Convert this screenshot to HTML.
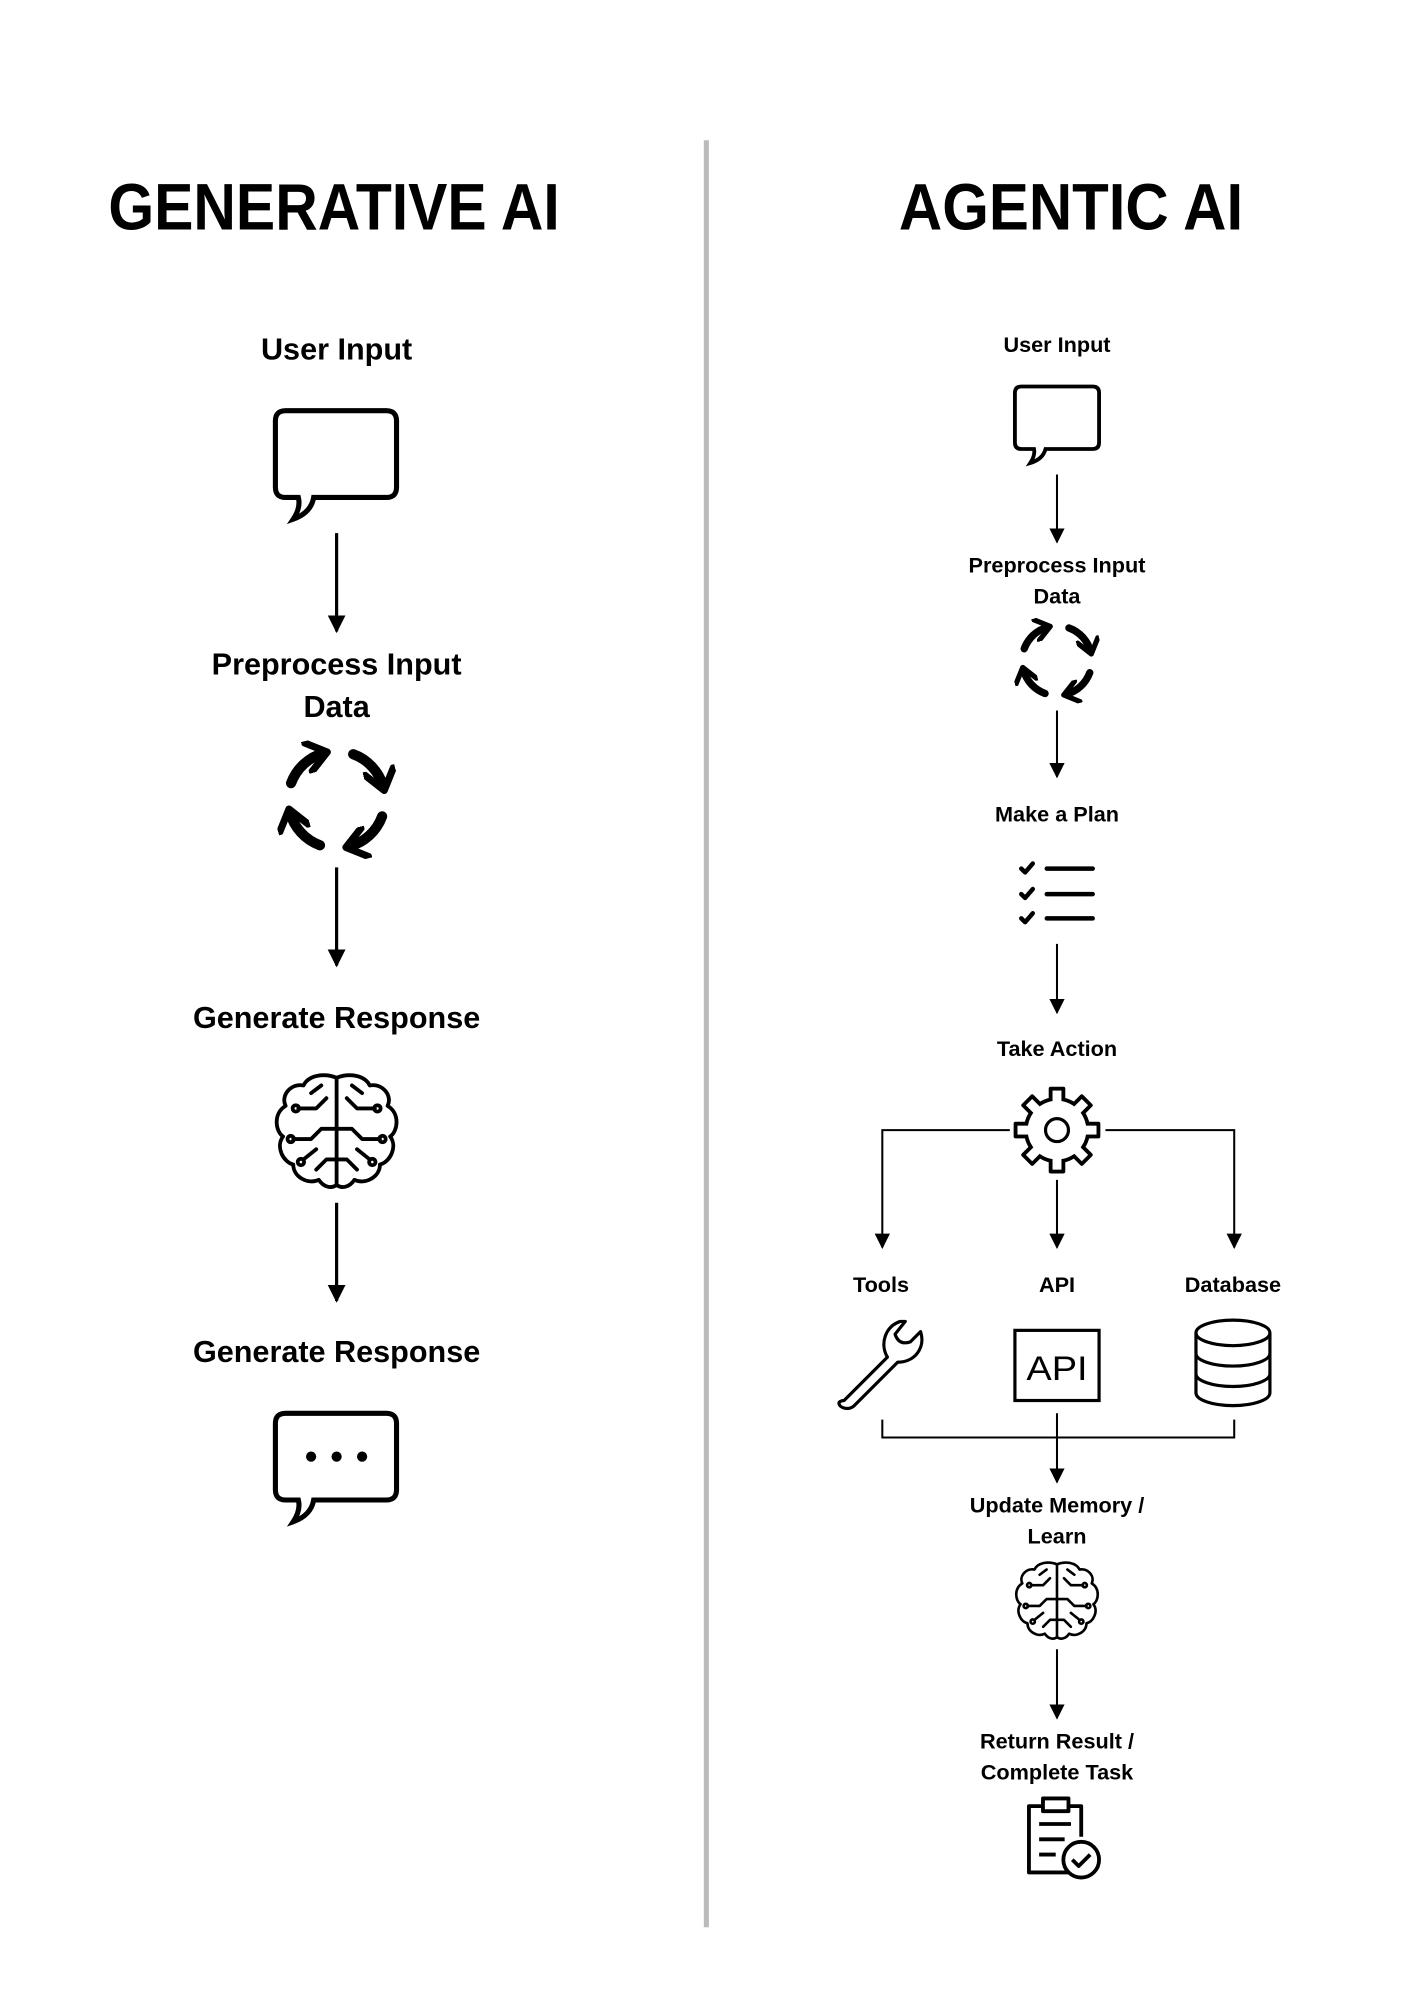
<!DOCTYPE html>
<html><head><meta charset="utf-8"><style>
html,body{margin:0;padding:0;background:#fff}
svg{display:block}
text{font-family:"Liberation Sans",Arial,sans-serif;font-weight:bold;fill:#000;text-anchor:middle}
</style></head><body>
<svg width="1414" height="2000" viewBox="0 0 1109 1568" preserveAspectRatio="none" xmlns="http://www.w3.org/2000/svg">
<defs>
<marker id="ahL" viewBox="0 0 10 10" refX="9" refY="5" markerWidth="14" markerHeight="14" orient="auto" markerUnits="userSpaceOnUse">
<path d="M0,0 L10,5 L0,10 z" fill="#000"/></marker>
<marker id="ahS" viewBox="0 0 10 10" refX="9" refY="5" markerWidth="12" markerHeight="12" orient="auto" markerUnits="userSpaceOnUse">
<path d="M0,0 L10,5 L0,10 z" fill="#000"/></marker>
<marker id="cyc" viewBox="0 0 10 10" refX="6" refY="5" markerWidth="3.2" markerHeight="3.2" orient="auto">
<path d="M1,0.5 L7,5 L1,9.5" fill="none" stroke="#000" stroke-width="2.2" stroke-linecap="round" stroke-linejoin="round"/></marker>
<g id="brain" fill="none" stroke="#000" stroke-width="3" stroke-linecap="round" stroke-linejoin="round">
<path d="M0,-42 C-10,-46 -22,-44 -26,-36 C-36,-38 -44,-28 -40,-20 C-50,-14 -48,0 -42,4 C-48,12 -42,24 -34,26 C-34,36 -22,42 -14,38 C-10,44 -4,45 0,42"/>
<path d="M0,-42 C10,-46 22,-44 26,-36 C36,-38 44,-28 40,-20 C50,-14 48,0 42,4 C48,12 42,24 34,26 C34,36 22,42 14,38 C10,44 4,45 0,42"/>
<path d="M0,-42 V42"/>
<path d="M-30,-18 H-16 L-8,-26 M-34,6 H-20 L-12,-2 H0 M-26,22 L-16,14 M-16,30 L-8,22 H0 M-20,-30 L-12,-36"/>
<path d="M30,-18 H16 L8,-26 M34,6 H20 L12,-2 H0 M26,22 L16,14 M16,30 L8,22 H0 M20,-30 L12,-36"/>
<circle cx="-32" cy="-18" r="2.5"/><circle cx="-36" cy="6" r="2.5"/><circle cx="-28" cy="24" r="2.5"/>
<circle cx="32" cy="-18" r="2.5"/><circle cx="36" cy="6" r="2.5"/><circle cx="28" cy="24" r="2.5"/>
</g>
<g id="cycle" fill="none" stroke="#000" stroke-width="8" stroke-linecap="round">
<path d="M-35.7,-13 A38,38 0 0 1 -9.8,-36.7" marker-end="url(#cyc)"/>
<path d="M13,-35.7 A38,38 0 0 1 36.7,-9.8" marker-end="url(#cyc)"/>
<path d="M35.7,13 A38,38 0 0 1 9.8,36.7" marker-end="url(#cyc)"/>
<path d="M-13,35.7 A38,38 0 0 1 -36.7,9.8" marker-end="url(#cyc)"/>
</g>
<g id="toothB"><rect x="-6.5" y="-34" width="13" height="14" rx="1.5" fill="#000"/></g>
<g id="toothW"><rect x="-3.5" y="-31" width="7" height="12" fill="#fff"/></g>
</defs>

<line x1="554" y1="110" x2="554" y2="1511" stroke="#bbb" stroke-width="4"/>

<text x="262" y="180" font-size="52" textLength="354" lengthAdjust="spacingAndGlyphs" style="font-weight:900">GENERATIVE AI</text>
<text x="840" y="180" font-size="52" textLength="270" lengthAdjust="spacingAndGlyphs" style="font-weight:900">AGENTIC AI</text>

<!-- LEFT -->
<text x="264" y="282" font-size="24">User Input</text>
<path d="M224,322 H303 Q311,322 311,330 V382 Q311,390 303,390 H246 Q244,402 230,407 Q236,398 234,390 H224 Q216,390 216,382 V330 Q216,322 224,322 Z" fill="none" stroke="#000" stroke-width="4"/>
<line x1="264" y1="418" x2="264" y2="495" stroke="#000" stroke-width="2.5" marker-end="url(#ahL)"/>
<text x="264" y="529" font-size="24">Preprocess Input</text>
<text x="264" y="562" font-size="24">Data</text>
<use href="#cycle" x="264" y="627"/>
<line x1="264" y1="680" x2="264" y2="757" stroke="#000" stroke-width="2.5" marker-end="url(#ahL)"/>
<text x="264" y="806" font-size="24">Generate Response</text>
<use href="#brain" transform="translate(264,887)"/>
<line x1="264" y1="943" x2="264" y2="1020" stroke="#000" stroke-width="2.5" marker-end="url(#ahL)"/>
<text x="264" y="1068" font-size="24">Generate Response</text>
<path d="M224,1108 H303 Q311,1108 311,1116 V1168 Q311,1176 303,1176 H246 Q244,1188 230,1193 Q236,1184 234,1176 H224 Q216,1176 216,1168 V1116 Q216,1108 224,1108 Z" fill="none" stroke="#000" stroke-width="4"/>
<circle cx="244" cy="1142" r="4"/><circle cx="264" cy="1142" r="4"/><circle cx="284" cy="1142" r="4"/>

<!-- RIGHT -->
<g font-size="17">
<text x="829" y="276">User Input</text>
<text x="829" y="449">Preprocess Input</text>
<text x="829" y="473">Data</text>
<text x="829" y="644">Make a Plan</text>
<text x="829" y="828">Take Action</text>
<text x="691" y="1013">Tools</text>
<text x="829" y="1013">API</text>
<text x="967" y="1013">Database</text>
<text x="829" y="1186">Update Memory /</text>
<text x="829" y="1210">Learn</text>
<text x="829" y="1371">Return Result /</text>
<text x="829" y="1395">Complete Task</text>
</g>
<path d="M801,303 H857 Q862,303 862,308 V347 Q862,352 857,352 H820 Q818,360 808,363 Q812,357 811,352 H801 Q796,352 796,347 V308 Q796,303 801,303 Z" fill="none" stroke="#000" stroke-width="3"/>
<g stroke="#000" stroke-width="1.6">
<line x1="829" y1="372" x2="829" y2="425" marker-end="url(#ahS)"/>
<line x1="829" y1="557" x2="829" y2="609" marker-end="url(#ahS)"/>
<line x1="829" y1="740" x2="829" y2="794" marker-end="url(#ahS)"/>
<line x1="829" y1="925" x2="829" y2="978" marker-end="url(#ahS)"/>
<polyline points="792,886 692,886 692,978" fill="none" marker-end="url(#ahS)"/>
<polyline points="867,886 968,886 968,978" fill="none" marker-end="url(#ahS)"/>
<polyline points="692,1113 692,1127 968,1127 968,1113" fill="none"/>
<line x1="829" y1="1108" x2="829" y2="1162" marker-end="url(#ahS)"/>
<line x1="829" y1="1293" x2="829" y2="1347" marker-end="url(#ahS)"/>
</g>
<use href="#cycle" transform="translate(829,518) scale(0.72)"/>
<!-- checklist -->
<g fill="none" stroke="#000" stroke-width="3.5" stroke-linecap="round" stroke-linejoin="round">
<path d="M801,681 l3,3 l6,-7 M801,701 l3,3 l6,-7 M801,720 l3,3 l6,-7"/>
<path d="M821,681 H857 M821,701 H857 M821,720 H857"/>
</g>
<!-- gear -->
<g transform="translate(829,886)">
<circle r="26" fill="#000"/>
<use href="#toothB" transform="rotate(0)"/><use href="#toothB" transform="rotate(45)"/>
<use href="#toothB" transform="rotate(90)"/><use href="#toothB" transform="rotate(135)"/>
<use href="#toothB" transform="rotate(180)"/><use href="#toothB" transform="rotate(225)"/>
<use href="#toothB" transform="rotate(270)"/><use href="#toothB" transform="rotate(315)"/>
<circle r="23" fill="#fff"/>
<use href="#toothW" transform="rotate(0)"/><use href="#toothW" transform="rotate(45)"/>
<use href="#toothW" transform="rotate(90)"/><use href="#toothW" transform="rotate(135)"/>
<use href="#toothW" transform="rotate(180)"/><use href="#toothW" transform="rotate(225)"/>
<use href="#toothW" transform="rotate(270)"/><use href="#toothW" transform="rotate(315)"/>
<circle r="9" fill="none" stroke="#000" stroke-width="2.5"/>
</g>
<!-- wrench -->
<path d="M662,1098 L696,1064 C690,1054 694,1040 706,1036 L710,1036 L702,1046 C704,1052 708,1054 714,1052 L722,1044 C726,1056 718,1068 704,1068 L670,1102 C666,1106 658,1104 658,1100 C658,1099 660,1098 662,1098 Z" fill="none" stroke="#000" stroke-width="2.5" stroke-linejoin="round"/>
<!-- API box -->
<rect x="796" y="1043" width="66" height="55" fill="none" stroke="#000" stroke-width="2.5"/>
<text x="829" y="1082" font-size="27" style="font-weight:normal" textLength="48" lengthAdjust="spacingAndGlyphs">API</text>
<!-- database -->
<g fill="none" stroke="#000" stroke-width="2.5">
<ellipse cx="967" cy="1045" rx="29" ry="10"/>
<path d="M938,1045 V1092 A29,10 0 0 0 996,1092 V1045 M938,1061 A29,10 0 0 0 996,1061 M938,1077 A29,10 0 0 0 996,1077"/>
</g>
<use href="#brain" transform="translate(829,1255) scale(0.68)"/>
<!-- clipboard -->
<g fill="none" stroke="#000" stroke-width="3" stroke-linejoin="round">
<path d="M817,1416 H807 V1468 H838 M848,1440 V1416 H838"/>
<rect x="818" y="1410" width="20" height="10" fill="#fff"/>
<path d="M815,1430 H840 M815,1442 H835 M815,1454 H828"/>
<circle cx="848" cy="1458" r="14" fill="#fff"/>
<path d="M841,1458 l5,5 l9,-9"/>
</g>
</svg>
</body></html>
